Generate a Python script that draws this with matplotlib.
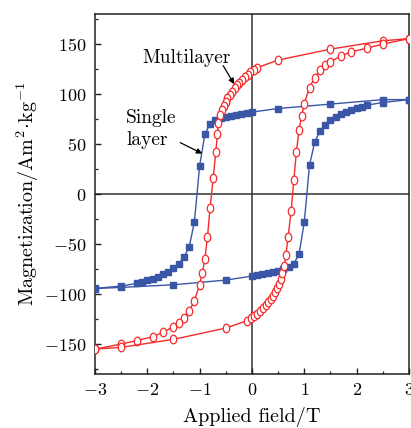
import matplotlib
matplotlib.use("Agg")
import matplotlib.pyplot as plt
from matplotlib.ticker import MultipleLocator
from matplotlib.path import Path
from matplotlib.transforms import Affine2D

plt.rcParams['font.family'] = 'serif'
plt.rcParams['font.serif'] = ['cmr10']
plt.rcParams['mathtext.fontset'] = 'cm'
plt.rcParams['axes.formatter.use_mathtext'] = True

# single layer loop (blue squares)
single_desc_x = [3.0, 2.5, 1.5, 0.5, 0.0, -0.1, -0.2, -0.3, -0.4, -0.5, -0.6, -0.7, -0.8, -0.9, -1.0,
                 -1.1, -1.2, -1.3, -1.4, -1.5, -1.6, -1.7, -1.8, -1.9, -2.0, -2.1, -2.2, -2.5, -3.0]
single_desc_y = [94.5, 94.5, 90, 85.6, 82, 81.3, 80.3, 79.3, 78.3, 77.3, 76, 74.3, 70, 60, 28,
                 -28, -53, -63, -69.5, -74, -77.5, -80, -82.5, -84.5, -86.3, -87.8, -89.3, -92, -94.3]
single_asc_x = [-3.0, -2.5, -1.5, -0.5, 0.0, 0.1, 0.2, 0.3, 0.4, 0.5, 0.6, 0.7, 0.8, 0.9, 1.0,
                1.1, 1.2, 1.3, 1.4, 1.5, 1.6, 1.7, 1.8, 1.9, 2.0, 2.1, 2.2, 2.5, 3.0]
single_asc_y = [-94.5, -93.3, -90.7, -86, -82, -80.7, -79.7, -78.7, -77.7, -76.7, -75, -73.3, -69.5, -60, -28,
                29, 52, 63, 69.6, 74.6, 77.6, 80, 82.3, 84.3, 86.3, 87.6, 89, 91.6, 94.5]

# multilayer loop (red open circles)
multi_desc_x = [3.0, 2.5, 1.5, 0.5, 0.1, 0.03, -0.03, -0.08, -0.14, -0.19, -0.24, -0.29, -0.33, -0.38,
                -0.42, -0.47, -0.5, -0.54, -0.58, -0.61, -0.64, -0.66, -0.69, -0.74, -0.8, -0.85, -0.9,
                -0.95, -1.0, -1.1, -1.2, -1.3, -1.4, -1.5, -1.7, -1.9, -2.2, -2.5, -3.0]
multi_desc_y = [155.5, 153.3, 145, 134, 126.5, 124.3, 122, 119.6, 117, 114.3, 111.6, 109, 106, 102.6,
                99.3, 96, 92.6, 88.3, 84, 79, 71.6, 60, 42.3, 16.6, -14, -43, -65,
                -79, -90.7, -106.7, -117, -124, -129, -132.5, -138.3, -142.7, -146.5, -150, -155]
multi_asc_x = [-3.0, -2.5, -1.5, -0.5, -0.1, -0.01, 0.04, 0.1, 0.16, 0.21, 0.26, 0.31, 0.36, 0.4,
               0.44, 0.48, 0.52, 0.55, 0.58, 0.62, 0.65, 0.69, 0.75, 0.8, 0.85, 0.9, 0.95, 1.0,
               1.1, 1.2, 1.3, 1.4, 1.5, 1.7, 1.9, 2.2, 2.5, 3.0]
multi_asc_y = [-155, -153.3, -145.3, -134, -126.7, -124, -122, -119.7, -117, -114.4, -111.4, -108.4, -105, -101.7,
               -98.4, -94.4, -90, -85, -79, -71.7, -60.7, -43, -16.5, 14, 42.6, 64.3, 78.3, 90.6,
               106.6, 116.6, 124, 129, 132.3, 138.3, 142.3, 146, 150, 155.5]

blue = '#3a56a6'
red = '#f52a2a'

# slightly tall oval marker, like the original scan
oval = Path.unit_circle().transformed(Affine2D().scale(0.75, 1.0))

fig = plt.figure(figsize=(4.11, 4.28), dpi=100)
ax = fig.add_axes([0.231, 0.126, 0.764, 0.841])

ax.axhline(0, color='#333333', lw=1.1, zorder=1)
ax.axvline(0, color='#333333', lw=1.1, zorder=1)

for xs, ys in [(single_desc_x, single_desc_y), (single_asc_x, single_asc_y)]:
    ax.plot(xs, ys, color=blue, lw=1.0, marker='s', ms=4.6, mfc=blue, mec=blue, zorder=3)
for xs, ys in [(multi_desc_x, multi_desc_y), (multi_asc_x, multi_asc_y)]:
    ax.plot(xs, ys, color=red, lw=1.0, marker=oval, ms=6.2, mfc='white', mec=red, mew=0.9, zorder=4)

ax.set_xlim(-3, 3)
ax.set_ylim(-180, 180)
ax.xaxis.set_major_locator(MultipleLocator(1))
ax.xaxis.set_minor_locator(MultipleLocator(0.5))
ax.yaxis.set_major_locator(MultipleLocator(50))
ax.yaxis.set_minor_locator(MultipleLocator(25))
ax.tick_params(which='both', direction='in', top=False, right=False, labelsize=13, color='#222222')
ax.tick_params(which='major', length=4, width=1.0, pad=6)
ax.tick_params(which='minor', length=2.5, width=0.9)
for s in ax.spines.values():
    s.set_linewidth(1.1)
    s.set_color('#222222')

ax.set_xlabel('Applied field/T', fontsize=14.5, labelpad=6)
ax.set_ylabel(r'Magnetization/Am$^{2}\!\cdot\!$kg$^{-1}$', fontsize=14.5, labelpad=2)

ax.text(-1.26, 136, 'Multilayer', fontsize=14, ha='center', va='center')
ax.text(-2.4, 65, 'Single\nlayer', fontsize=14, ha='left', va='center', linespacing=1.25)

arrow = dict(arrowstyle='-|>', color='black', lw=0.9, mutation_scale=8, shrinkA=0, shrinkB=0)
ax.annotate('', xy=(-0.34, 110), xytext=(-0.55, 128.5), arrowprops=arrow)
ax.annotate('', xy=(-0.95, 40.5), xytext=(-1.37, 51.5), arrowprops=arrow)

fig.savefig('out.png', dpi=100)
